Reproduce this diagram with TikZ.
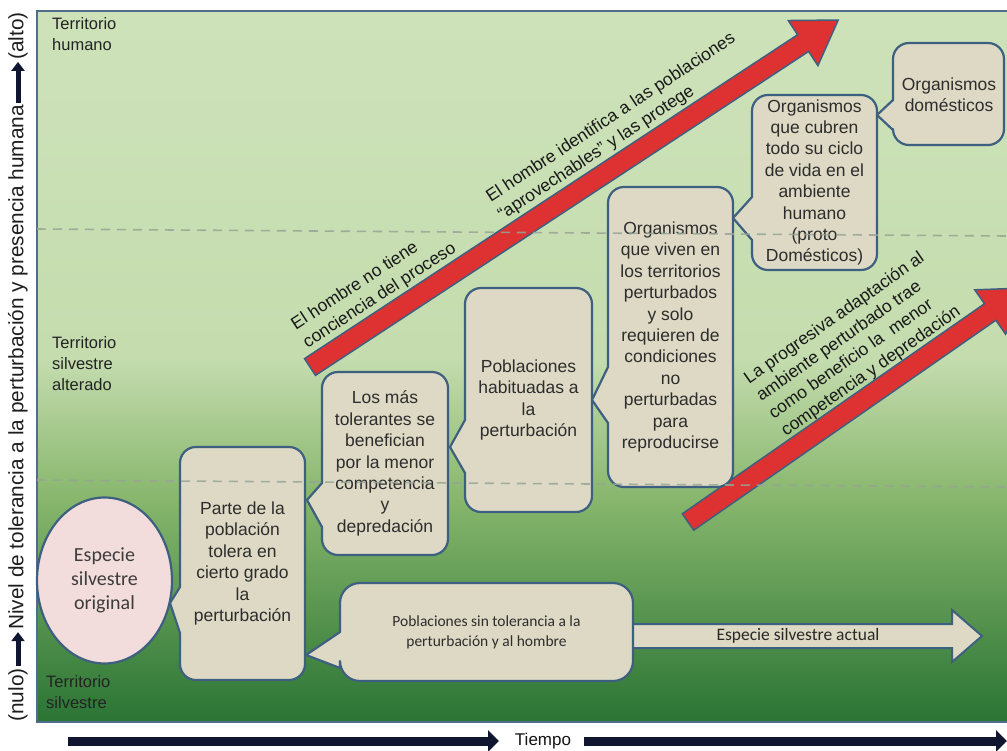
\documentclass[tikz,border=0pt]{standalone}
\usepackage{fontspec}
\setmainfont{Liberation Sans}
\newfontfamily\calf{Carlito}
\usetikzlibrary{shapes.geometric,arrows.meta}
\definecolor{panelbd}{RGB}{80,110,140}
\definecolor{gtop}{RGB}{206,226,186}
\definecolor{gmid1}{RGB}{196,220,174}
\definecolor{gmid2}{RGB}{135,182,108}
\definecolor{gbot}{RGB}{42,116,52}
\definecolor{boxfill}{RGB}{221,217,196}
\definecolor{boxbd}{RGB}{62,96,128}
\definecolor{elfill}{RGB}{243,221,220}
\definecolor{redarr}{RGB}{222,50,50}
\definecolor{navy}{RGB}{16,22,48}
\definecolor{dashc}{RGB}{150,165,150}
\definecolor{txt}{RGB}{45,45,45}
\begin{document}
\begin{tikzpicture}[x=1pt,y=-1pt,
  callshape/.style={fill=boxfill,draw=boxbd,line width=2.2pt,line join=round},
  ctext/.style={font=\fontsize{17.5}{21.4}\selectfont,text=txt,align=center,inner sep=0pt},
  cbtext/.style={font=\calf\fontsize{15.5}{20}\selectfont,text=txt,align=center,inner sep=0pt},
  terr/.style={font=\fontsize{16.5}{21}\selectfont,text={rgb,255:red,35;green,35;blue,35},align=left,inner sep=0pt,anchor=north west},
  rottext/.style={font=\fontsize{17.5}{21.5}\selectfont,text={rgb,255:red,25;green,25;blue,25},align=left,inner sep=0pt},
  axlab/.style={font=\fontsize{20.8}{24}\selectfont,text={rgb,255:red,30;green,30;blue,30},rotate=90,inner sep=2pt},
  axarr/.style={navy,line width=5pt,-{Triangle[length=9pt,width=13pt]}},
  tarr/.style={navy,line width=9pt,-{Triangle[length=11pt,width=21pt]}},
  redshape/.style={fill=redarr,draw=boxbd,line width=1.5pt,line join=miter},
  dashl/.style={dashc,line width=1.6pt,dash pattern=on 9pt off 7pt,opacity=0.85}
]
\clip (0,0) rectangle (1007,750);
\fill[white] (0,0) rectangle (1007,750);
% panel background
\shade[top color=gtop,bottom color=gmid1] (37,11) rectangle (1012,360);
\shade[top color=gmid1,bottom color=gmid2] (37,359.5) rectangle (1012,500);
\shade[top color=gmid2,bottom color=gbot] (37,499.5) rectangle (1012,722);
\draw[panelbd,line width=2pt] (37,11) rectangle (1012,722);

% territory labels
\node[terr] (th) at (52,17) {Territorio\\humano};
\node[terr] (tsa) at (52,336) {Territorio\\silvestre\\alterado};
\node[terr] (ts) at (46,675) {Territorio\\silvestre};

% red arrows
\begin{scope}[shift={(310,367)},rotate=33.3]
  \draw[redshape] (0,-10) -- (590,-10) -- (590,-27) -- (632,0) -- (590,27) -- (590,10) -- (0,10) -- cycle;
\end{scope}
\begin{scope}[shift={(688,522)},rotate=34.8]
  \draw[redshape] (0,-10) -- (368,-10) -- (368,-27) -- (410,0) -- (368,27) -- (368,10) -- (0,10) -- cycle;
\end{scope}

% ellipse
\node[ellipse,fill=elfill,draw=boxbd,line width=2.2pt,minimum width=135pt,minimum height=166pt,inner sep=0pt,
  font=\calf\fontsize{20}{24}\selectfont,text={rgb,255:red,60;green,60;blue,60},align=center] (esp) at (104.5,580.5) {Especie\\silvestre\\original};

% block arrow Especie silvestre actual
\draw[fill=boxfill,draw=boxbd,line width=2pt,line join=miter] (630,624) -- (952,624) -- (952,610) -- (982,636) -- (952,662) -- (952,648) -- (630,648);

% callouts
\draw[callshape] (180,587) [rounded corners=16pt] -- (180,447) -- (305,447) -- (305,680) -- (180,680) [sharp corners] -- (180,633) -- (170,603) -- cycle;
\node[ctext] (parte) at (242.5,563.5) {Parte de la\\población\\tolera en\\cierto grado\\la\\perturbación};

\draw[callshape] (322,483) [rounded corners=16pt] -- (322,372) -- (448,372) -- (448,555) -- (322,555) [sharp corners] -- (322,527) -- (307,500) -- cycle;
\node[ctext] (losmas) at (385,463.5) {Los más\\tolerantes se\\benefician\\por la menor\\competencia\\y\\depredación};

\draw[callshape] (465,420) [rounded corners=16pt] -- (465,288) -- (592,288) -- (592,512) -- (465,512) [sharp corners] -- (465,473) -- (450,447) -- cycle;
\node[ctext] (pobhab) at (528.5,400) {Poblaciones\\habituadas a\\la\\perturbación};

\draw[callshape] (608,367) [rounded corners=16pt] -- (608,187) -- (733,187) -- (733,487) -- (608,487) [sharp corners] -- (608,423) -- (592,400) -- cycle;
\node[ctext] (orgviven) at (670.5,337) {Organismos\\que viven en\\los territorios\\perturbados\\y solo\\requieren de\\condiciones\\no\\perturbadas\\para\\reproducirse};

\draw[callshape] (752,197) [rounded corners=16pt] -- (752,95) -- (877,95) -- (877,270) -- (752,270) [sharp corners] -- (752,240) -- (733,218) -- cycle;
\node[ctext] (orgcubren) at (814.5,182.5) {Organismos\\que cubren\\todo su ciclo\\de vida en el\\ambiente\\humano\\(proto\\Domésticos)};

\draw[callshape] (893,100) [rounded corners=16pt] -- (893,43) -- (1004,43) -- (1004,145) -- (893,145) [sharp corners] -- (893,130) -- (877,115) -- cycle;
\node[ctext] (orgdom) at (949,95) {Organismos\\domésticos};

\draw[callshape] (340,632) [rounded corners=20pt] -- (340,583) -- (633,583) -- (633,681) -- (340,681) [sharp corners] -- (340,668) -- (306,655) -- cycle;
\node[cbtext] (pobsin) at (486.5,632) {Poblaciones sin tolerancia a la\\perturbación y al hombre};

\node[font=\calf\fontsize{17.5}{20}\selectfont,text={rgb,255:red,40;green,40;blue,40},inner sep=0pt] (actual) at (798,636) {Especie silvestre actual};

% dashed level lines
\draw[dashl] (37,229) -- (1007,236);
\draw[dashl] (37,480) -- (1007,487);

% rotated labels
\node[rottext,rotate=33] (t1) at (374,287) {El hombre no tiene\\conciencia del proceso};
\node[rottext,rotate=33.3] (t2) at (617,127) {El hombre identifica a las poblaciones\\“aprovechables” y las protege};
\node[rottext,rotate=35] (t3) at (853,345) {La progresiva adaptación al\\ambiente perturbado trae\\como beneficio la\ \ menor\\competencia y depredación};

% vertical axis
\node[axlab] (nulo) at (18,695) {(nulo)};
\node[axlab] (nivel) at (18,367.5) {Nivel de tolerancia a la perturbación y presencia humana};
\node[axlab] (alto) at (18,36) {(alto)};
\draw[axarr] (nulo.east) -- (nivel.west);
\draw[axarr] (nivel.east) -- (alto.west);

% time axis
\node[font=\fontsize{17}{19}\selectfont,inner sep=0pt,text={rgb,255:red,20;green,20;blue,20}] (tiempo) at (543,741) {Tiempo};
\coordinate (ts1) at (68,741);
\coordinate (te1) at (499,741);
\coordinate (ts2) at (584,741);
\coordinate (te2) at (1007,741);
\draw[tarr] (ts1) -- (te1);
\draw[tarr] (ts2) -- (te2);
\end{tikzpicture}
\end{document}
